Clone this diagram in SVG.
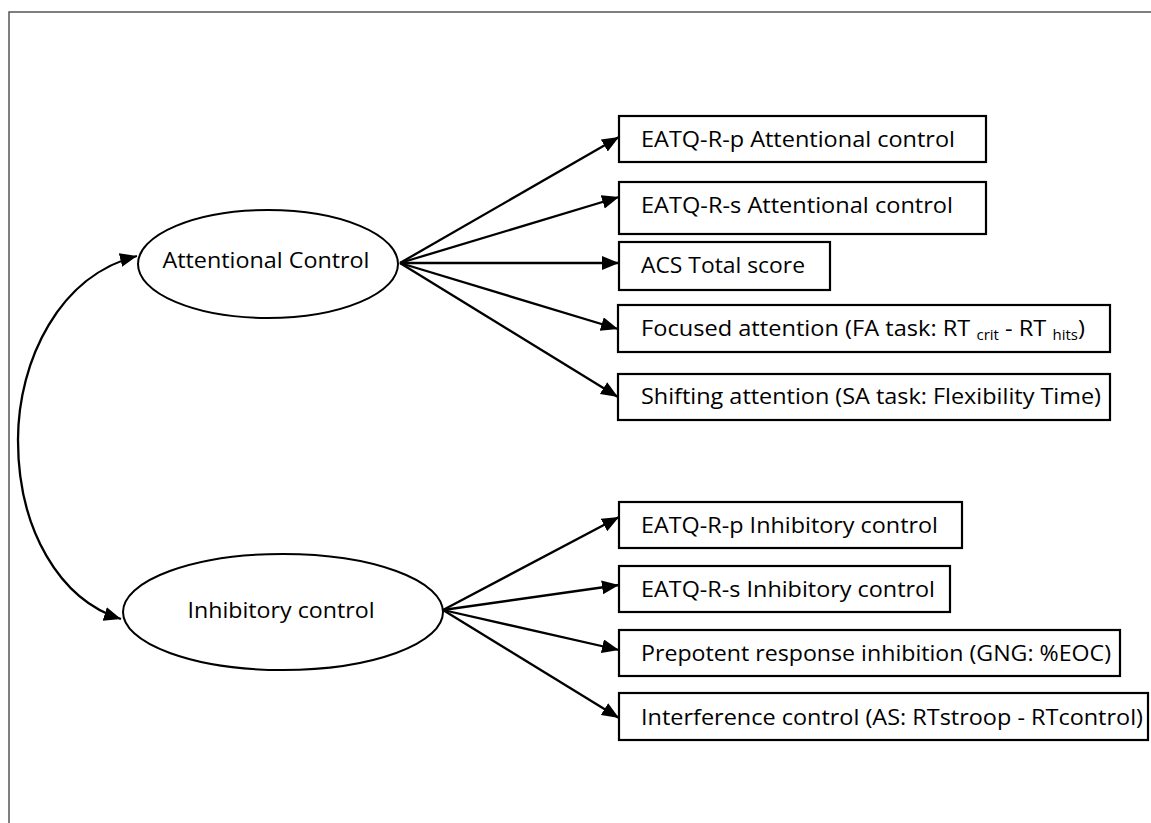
<svg xmlns="http://www.w3.org/2000/svg" width="1151" height="823" viewBox="0 0 1151 823">
  <style>
    .frame { fill: none; stroke: #555; stroke-width: 1.5; }
    .latent { fill: #fff; stroke: #000; stroke-width: 2; }
    .box { fill: #fff; stroke: #000; stroke-width: 2.2; }
    .lbl { font-family: "Open Sans", Lato, "Liberation Sans", sans-serif; font-size: 22px; fill: #000; }
    .sub { font-size: 14px; }
    .edge { fill: none; stroke: #000; stroke-width: 2.3; marker-end: url(#head); }
    .cov { fill: none; stroke: #000; stroke-width: 2.3; marker-start: url(#head); marker-end: url(#head); }
  </style>
  <defs>
    <marker id="head" markerUnits="userSpaceOnUse" markerWidth="18" markerHeight="15" refX="17" refY="7" orient="auto-start-reverse">
      <path d="M0,0 L17,7 L0,14 z" fill="#000"/>
    </marker>
  </defs>

  <rect width="1151" height="823" fill="#fff"/>
  <path class="frame" d="M9,823 V12 H1151"/>

  <!-- connectors -->
  <g id="connectors">
    <path class="cov" d="M137,256 C60,275 18,360 18,440 C18,530 60,600 121,619"/>
    <line class="edge" x1="400" y1="263" x2="619" y2="137"/>
    <line class="edge" x1="400" y1="263" x2="619" y2="197"/>
    <line class="edge" x1="400" y1="263" x2="619" y2="263"/>
    <line class="edge" x1="400" y1="263" x2="618" y2="329"/>
    <line class="edge" x1="400" y1="263" x2="618" y2="397"/>
    <line class="edge" x1="443" y1="610" x2="619" y2="517"/>
    <line class="edge" x1="443" y1="610" x2="619" y2="585"/>
    <line class="edge" x1="443" y1="610" x2="619" y2="650"/>
    <line class="edge" x1="443" y1="610" x2="619" y2="718"/>
  </g>

  <!-- latent factors -->
  <g id="attentional-control">
    <ellipse class="latent" cx="268" cy="264" rx="130" ry="54"/>
    <text class="lbl" x="266" y="268" text-anchor="middle" textLength="207" lengthAdjust="spacingAndGlyphs">Attentional Control</text>
  </g>
  <g id="inhibitory-control">
    <ellipse class="latent" cx="283" cy="612" rx="160" ry="58"/>
    <text class="lbl" x="281" y="618" text-anchor="middle" textLength="187" lengthAdjust="spacingAndGlyphs">Inhibitory control</text>
  </g>

  <!-- attentional control indicators -->
  <g id="eatq-p-ac">
    <rect class="box" x="619" y="116" width="367" height="46"/>
    <text class="lbl" x="641" y="147" textLength="314" lengthAdjust="spacingAndGlyphs">EATQ-R-p Attentional control</text>
  </g>
  <g id="eatq-s-ac">
    <rect class="box" x="619" y="182" width="367" height="52"/>
    <text class="lbl" x="641" y="213" textLength="312" lengthAdjust="spacingAndGlyphs">EATQ-R-s Attentional control</text>
  </g>
  <g id="acs-total">
    <rect class="box" x="619" y="242" width="211" height="48"/>
    <text class="lbl" x="641" y="273" textLength="164" lengthAdjust="spacingAndGlyphs">ACS Total score</text>
  </g>
  <g id="focused-attention">
    <rect class="box" x="618" y="305" width="492" height="47"/>
    <text class="lbl" x="641" y="336" textLength="444" lengthAdjust="spacingAndGlyphs">Focused attention (FA task: RT <tspan class="sub" dy="4">crit</tspan><tspan dy="-4"> - RT </tspan><tspan class="sub" dy="4">hits</tspan><tspan dy="-4">)</tspan></text>
  </g>
  <g id="shifting-attention">
    <rect class="box" x="618" y="374" width="492" height="46"/>
    <text class="lbl" x="641" y="404" textLength="460" lengthAdjust="spacingAndGlyphs">Shifting attention (SA task: Flexibility Time)</text>
  </g>

  <!-- inhibitory control indicators -->
  <g id="eatq-p-ic">
    <rect class="box" x="619" y="502" width="343" height="46"/>
    <text class="lbl" x="641" y="533" textLength="297" lengthAdjust="spacingAndGlyphs">EATQ-R-p Inhibitory control</text>
  </g>
  <g id="eatq-s-ic">
    <rect class="box" x="619" y="566" width="331" height="46"/>
    <text class="lbl" x="641" y="597" textLength="294" lengthAdjust="spacingAndGlyphs">EATQ-R-s Inhibitory control</text>
  </g>
  <g id="prepotent-inhibition">
    <rect class="box" x="619" y="630" width="501" height="46"/>
    <text class="lbl" x="641" y="661" textLength="470" lengthAdjust="spacingAndGlyphs">Prepotent response inhibition (GNG: %EOC)</text>
  </g>
  <g id="interference-control">
    <rect class="box" x="619" y="693" width="529" height="47"/>
    <text class="lbl" x="641" y="725" textLength="502" lengthAdjust="spacingAndGlyphs">Interference control (AS: RTstroop - RTcontrol)</text>
  </g>
</svg>
